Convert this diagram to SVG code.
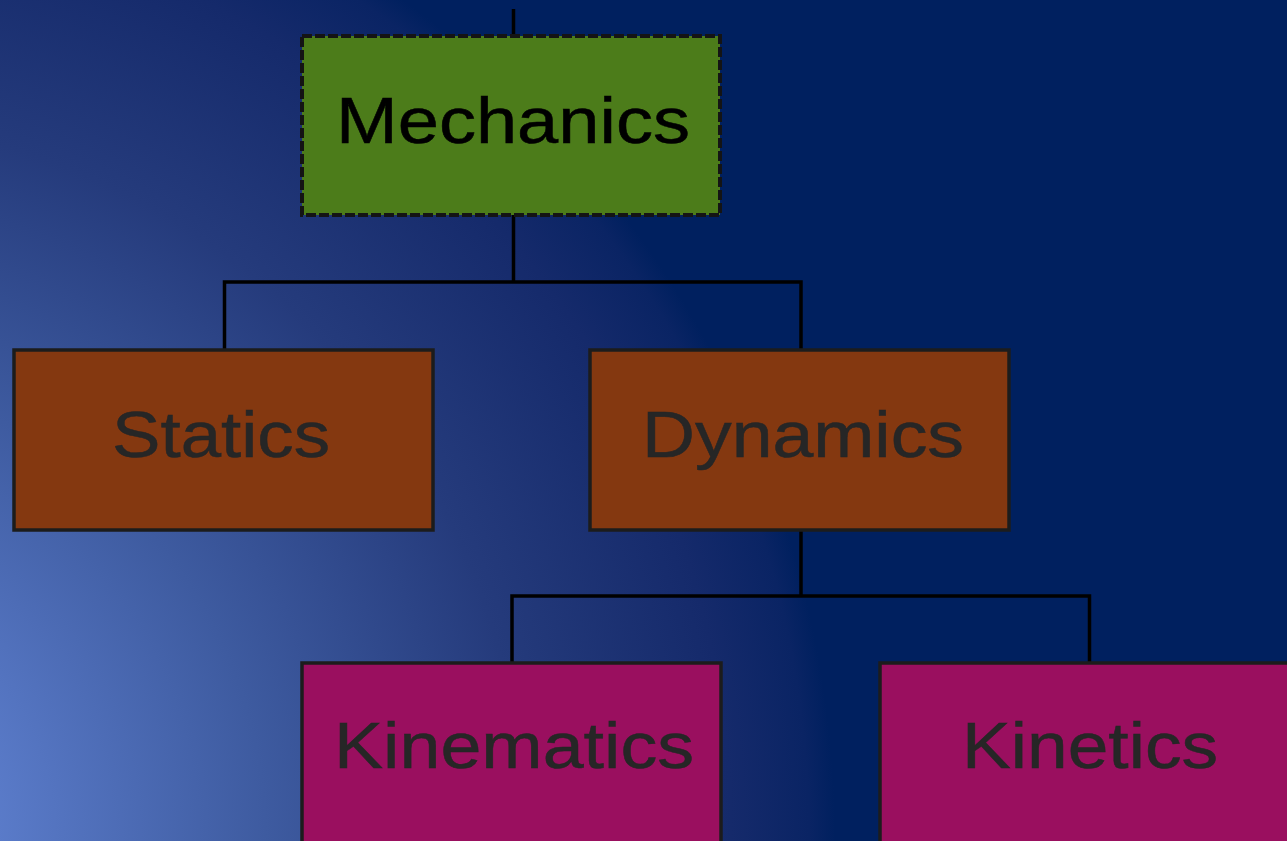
<svg xmlns="http://www.w3.org/2000/svg" width="1287" height="841" viewBox="0 0 1287 841">
<defs>
<radialGradient id="bg" gradientUnits="userSpaceOnUse" cx="-200" cy="841" r="1035">
<stop offset="0" stop-color="#6a8ee0"/>
<stop offset="0.19" stop-color="#5a7bc9"/>
<stop offset="0.45" stop-color="#3e5ba0"/>
<stop offset="0.7" stop-color="#253b7c"/>
<stop offset="0.9" stop-color="#152a6b"/>
<stop offset="0.975" stop-color="#0a2464"/>
<stop offset="1" stop-color="#00205f"/>
</radialGradient>
<style>
.box{stroke:#1c1c1c;stroke-width:3.5}
.root{fill:#4c7c1a;stroke:#141414;stroke-width:4;stroke-dasharray:10 3}
.l2{fill:#843810}
.l3{fill:#9a0f5f}
.lbl{font-family:"Liberation Sans",Arial,sans-serif;font-size:64px;text-anchor:middle;fill:#262626;stroke:#262626;stroke-width:0.5}
.conn{fill:none;stroke:#000;stroke-width:3.5}
</style>
</defs>
<rect x="0" y="0" width="1287" height="841" fill="url(#bg)"/>
<g id="connectors">
<path class="conn" d="M513.5 9V36"/>
<path class="conn" d="M513.5 215V282H224.5V350M513.5 282H801V350"/>
<path class="conn" d="M801 530V596H512V663M801 596H1089.5V663"/>
</g>
<g id="mechanics">
<rect class="box root" x="302" y="36" width="418" height="179"/>
<text class="lbl" x="513" y="143" textLength="354" lengthAdjust="spacingAndGlyphs" style="fill:#000;stroke:#000">Mechanics</text>
</g>
<g id="statics">
<rect class="box l2" x="14" y="350" width="419" height="180"/>
<text class="lbl" x="221" y="457" textLength="218" lengthAdjust="spacingAndGlyphs">Statics</text>
</g>
<g id="dynamics">
<rect class="box l2" x="590" y="350" width="419" height="180"/>
<text class="lbl" x="803" y="457" textLength="322" lengthAdjust="spacingAndGlyphs">Dynamics</text>
</g>
<g id="kinematics">
<rect class="box l3" x="302" y="663" width="419" height="200"/>
<text class="lbl" x="514" y="768" textLength="360" lengthAdjust="spacingAndGlyphs">Kinematics</text>
</g>
<g id="kinetics">
<rect class="box l3" x="880" y="663" width="419" height="200"/>
<text class="lbl" x="1090" y="768" textLength="256" lengthAdjust="spacingAndGlyphs">Kinetics</text>
</g>
</svg>
